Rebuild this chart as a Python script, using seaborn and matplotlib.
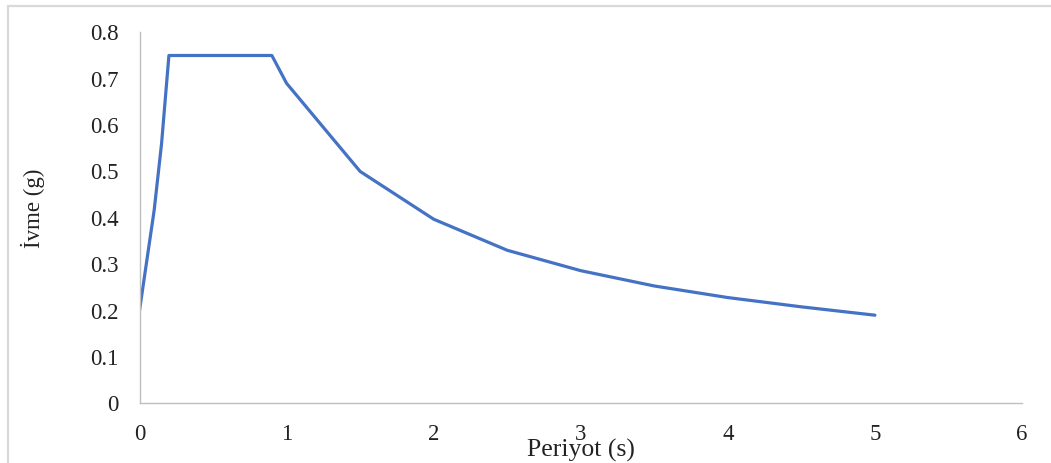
import matplotlib
matplotlib.use("Agg")
import matplotlib.pyplot as plt
import seaborn as sns
import pandas as pd
from matplotlib.patches import Rectangle

period = [0, 0.1, 0.15, 0.2, 0.9, 1.0, 1.5, 2.0, 2.5, 3.0, 3.5, 4.0, 4.5, 5.0]
accel = [0.2, 0.417, 0.56, 0.75, 0.75, 0.69, 0.5, 0.397, 0.33, 0.286, 0.253, 0.228, 0.208, 0.19]
x_ticks = [0, 1, 2, 3, 4, 5, 6]
y_ticks = [0, 0.1, 0.2, 0.3, 0.4, 0.5, 0.6, 0.7, 0.8]
y_tick_labels = ["0", "0.1", "0.2", "0.3", "0.4", "0.5", "0.6", "0.7", "0.8"]

df = pd.DataFrame({"Periyot": period, "Ivme": accel})

sns.set_theme(style="white")
plt.rcParams["font.family"] = ["Liberation Serif", "DejaVu Serif"]

W, H = 1051, 463
fig = plt.figure(figsize=(W / 100, H / 100), dpi=100)
ax = fig.add_axes([139.5 / W, (H - 403.3) / H, (1022 - 139.5) / W, (403.3 - 32.3) / H])

sns.lineplot(data=df, x="Periyot", y="Ivme", ax=ax, color="#4472C4", lw=2.3,
             sort=False, estimator=None)

ax.set_xlim(0, 6)
ax.set_ylim(0, 0.8)
ax.set_xticks(x_ticks)
ax.set_xticklabels([str(t) for t in x_ticks])
ax.set_yticks(y_ticks)
ax.set_yticklabels(y_tick_labels)
ax.tick_params(axis="both", length=0, labelsize=16.5, colors="#222222")
ax.tick_params(axis="y", pad=15)
ax.tick_params(axis="x", pad=15)

for s in ["top", "right"]:
    ax.spines[s].set_visible(False)
for s in ["left", "bottom"]:
    ax.spines[s].set_color("#BFBFBF")
    ax.spines[s].set_linewidth(1.0)

ax.set_xlabel("Periyot (s)", fontsize=18.5, color="#222222")
ax.xaxis.label.set_va("center")
ax.xaxis.set_label_coords((581 - 139.5) / 882.5, (403.3 - 450) / 371)
ax.set_ylabel("İvme (g)", fontsize=16.5, color="#222222")
ax.yaxis.label.set_va("center")
ax.yaxis.label.set_ha("center")
ax.yaxis.set_label_coords((33 - 139.5) / 882.5, (403.3 - 208) / 371)
ax.grid(False)

# outer chart-area border (top and left visible)
fig.patches.append(Rectangle((8 / W, -0.1), 1.2, (H - 6) / H + 0.1, transform=fig.transFigure,
                             fill=False, edgecolor="#D9D9D9", lw=1.6))

fig.savefig("out.png", dpi=100)
